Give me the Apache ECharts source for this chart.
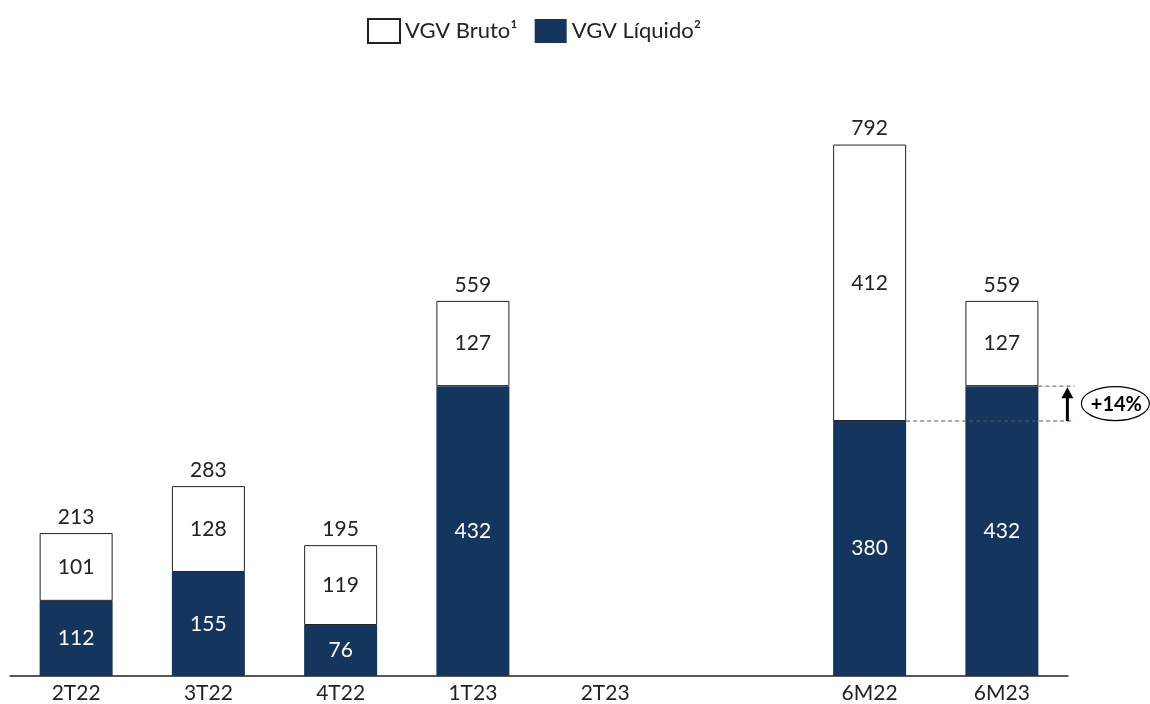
<!DOCTYPE html>
<html><head><meta charset="utf-8">
<script src="https://cdn.jsdelivr.net/npm/echarts@6/dist/echarts.min.js"></script>
<style>html,body{margin:0;padding:0;background:#fff}#c{width:1150px;height:704px}</style>
</head><body><div id="c"></div>
<script>
const categories = ['2T22','3T22','4T22','1T23','2T23','','6M22','6M23'];
const liquido = [112,155,76,432,null,null,380,432];
const brutoExtra = [101,128,119,127,null,null,412,127];
const totals = [213,283,195,559,null,null,792,559];
const growthLabel = '+14%';

const FONT = 'Lato';
const DARK = '#14365e';
const chart = echarts.init(document.getElementById('c'));
chart.setOption({
  animation:false,
  textStyle:{fontFamily:FONT},
  legend:{
    data:[{name:'VGV Bruto¹', icon:'rect'},{name:'VGV Líquido²', icon:'rect'}],
    top:13, left:362,
    itemWidth:32, itemHeight:24, itemGap:17,
    textStyle:{fontSize:22, color:'#222', fontFamily:FONT}
  },
  grid:{left:10, right:82, top:5, bottom:28, containLabel:false},
  xAxis:{
    type:'category', data:categories,
    axisLine:{lineStyle:{color:'#222', width:1.5}},
    axisTick:{show:false},
    axisLabel:{fontSize:21, color:'#222', margin:7, interval:0, fontFamily:FONT}
  },
  yAxis:{type:'value', min:0, max:1000, show:false, splitLine:{show:false}},
  series:[
    {name:'VGV Líquido²', type:'bar', stack:'a', data:liquido, barWidth:73,
     itemStyle:{color:DARK},
     label:{show:true, position:'inside', color:'#fff', fontSize:21, fontFamily:FONT}},
    {name:'VGV Bruto¹', type:'bar', stack:'a', data:brutoExtra, barWidth:73,
     itemStyle:{color:'#fff', borderColor:'#222', borderWidth:1},
     label:{show:true, position:'inside', color:'#222', fontSize:21, fontFamily:FONT}},
    {name:'total', type:'scatter', data:totals, symbolSize:1,
     itemStyle:{color:'rgba(0,0,0,0)', opacity:1}, silent:true,
     label:{show:true, position:'top', distance:5, color:'#222', fontSize:21, fontFamily:FONT}}
  ]
});

// annotation between 6M22 and 6M23 líquido levels
const i22 = 6, i23 = 7;
const pA = chart.convertToPixel({xAxisIndex:0,yAxisIndex:0},[i23, liquido[i23]]);
const pB = chart.convertToPixel({xAxisIndex:0,yAxisIndex:0},[i22, liquido[i22]]);
const half = 36.5;
const xEnd = pA[0] + half + 36;
const xArrow = pA[0] + half + 29;
const dash = {stroke:'#555', lineWidth:1, lineDash:[4,3]};
chart.setOption({graphic:[
  {type:'line', shape:{x1:pA[0]+half, y1:pA[1], x2:xEnd, y2:pA[1]}, style:dash, z:100},
  {type:'line', shape:{x1:pB[0]+half, y1:pB[1], x2:xEnd, y2:pB[1]}, style:dash, z:100},
  {type:'line', shape:{x1:xArrow, y1:pB[1], x2:xArrow, y2:pA[1]+10}, style:{stroke:'#000', lineWidth:3}, z:100},
  {type:'polygon', shape:{points:[[xArrow-6,pA[1]+12],[xArrow+6,pA[1]+12],[xArrow,pA[1]+1]]}, style:{fill:'#000'}, z:100},
  {type:'ellipse', shape:{cx:xArrow+48, cy:(pA[1]+pB[1])/2, rx:34, ry:17}, style:{fill:'#fff', stroke:'#000', lineWidth:1.2}, z:100},
  {type:'text', x:xArrow+49, y:(pA[1]+pB[1])/2+1, style:{text:growthLabel, fontSize:20, fontWeight:'bold', fontFamily:FONT, fill:'#000', align:'center', verticalAlign:'middle'}, z:101}
]});
</script></body></html>
